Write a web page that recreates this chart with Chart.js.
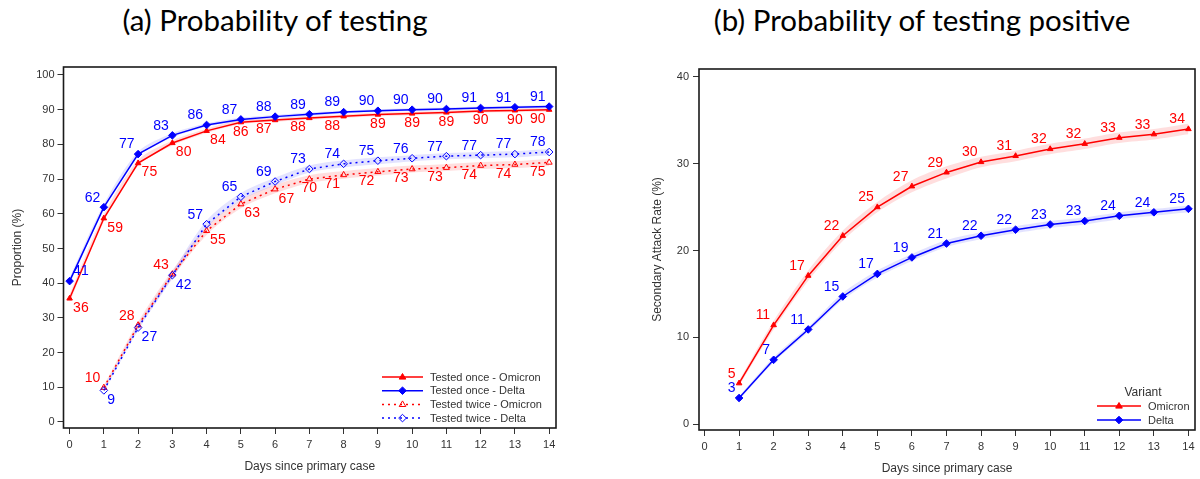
<!DOCTYPE html>
<html><head><meta charset="utf-8">
<script src="https://cdn.jsdelivr.net/npm/chart.js@4.4.1/dist/chart.umd.min.js"></script>
<style>
html,body{margin:0;padding:0;background:#fff;}
#wrap{position:relative;width:1200px;height:479px;overflow:hidden;background:#fff;}
canvas{position:absolute;top:0;}
.title{position:absolute;top:3px;font-family:Lato,'Open Sans',sans-serif;font-size:29.5px;line-height:34px;color:#000;white-space:nowrap;transform:translateX(-50%);}
</style></head><body>
<div id="wrap">
<div class="title" style="left:275px">(a) Probability of testing</div>
<div class="title" style="left:922px">(b) Probability of testing positive</div>
<canvas id="c1" width="600" height="479" style="left:0"></canvas>
<canvas id="c2" width="600" height="479" style="left:600px"></canvas>
</div>
<script>
// ---------- DATA ----------
const daysOnce  = [0,1,2,3,4,5,6,7,8,9,10,11,12,13,14];
const daysTwice = [1,2,3,4,5,6,7,8,9,10,11,12,13,14];
const daysB     = [1,2,3,4,5,6,7,8,9,10,11,12,13,14];
const xTickValues = [0,1,2,3,4,5,6,7,8,9,10,11,12,13,14];
const yTicksA = [0,10,20,30,40,50,60,70,80,90,100];
const yTicksB = [0,10,20,30,40];

// (a) Probability of testing (%)
const onceOmicron  = [35.6,58.7,74.6,80.4,83.9,86.4,87.0,87.6,88.1,88.6,88.9,89.2,89.6,89.8,90.0];
const onceDelta    = [40.6,61.9,77.2,82.6,85.6,87.2,88.0,88.7,89.3,89.7,90.0,90.2,90.5,90.7,90.9];
const twiceOmicron = [9.9,27.9,42.6,55.1,62.8,67.1,70.0,71.2,72.1,72.9,73.3,73.9,74.2,74.8];
const twiceDelta   = [9.1,27.2,42.3,57.0,64.9,69.3,72.9,74.4,75.3,76.0,76.6,76.9,77.2,77.8];
const onceOmicronCI  = [1.2,1.0,0.8,0.7,0.6,0.6,0.5,0.5,0.5,0.5,0.5,0.5,0.5,0.5,0.5];
const onceDeltaCI    = [1.0,0.9,0.7,0.6,0.5,0.5,0.5,0.5,0.4,0.4,0.4,0.4,0.4,0.4,0.4];
const twiceOmicronCI = [0.6,0.9,1.1,1.2,1.2,1.2,1.1,1.1,1.1,1.0,1.0,1.0,1.0,1.0];
const twiceDeltaCI   = [0.5,0.8,1.0,1.1,1.1,1.1,1.0,1.0,1.0,0.9,0.9,0.9,0.9,0.9];

// (b) Secondary attack rate (%)
const sarOmicron = [4.7,11.4,17.1,21.7,25.0,27.4,29.0,30.2,30.9,31.7,32.3,33.0,33.4,34.0];
const sarDelta   = [3.0,7.4,10.9,14.7,17.3,19.2,20.8,21.7,22.4,23.0,23.4,24.0,24.4,24.8];
const sarOmicronCI = [0.3,0.5,0.6,0.6,0.6,0.7,0.7,0.6,0.6,0.6,0.6,0.6,0.6,0.6];
const sarDeltaCI   = [0.2,0.3,0.3,0.4,0.4,0.4,0.4,0.4,0.4,0.4,0.4,0.4,0.4,0.4];

const labelsA = ['Tested once - Omicron','Tested once - Delta','Tested twice - Omicron','Tested twice - Delta'];
const labelsB = ['Omicron','Delta'];

// ---------- STYLE ----------
const RED = '#ff0000', BLUE = '#0000ff';
const RED_BAND = 'rgba(255,0,0,0.13)', BLUE_BAND = 'rgba(0,0,255,0.11)';
const FONT = "'Liberation Sans', Arial, sans-serif";
Chart.defaults.font.family = FONT;

function pts(xs, ys, add) { return xs.map((x,i)=>({x:x, y: ys[i] + (add ? add[i] : 0)})); }
function neg(a){ return a.map(v=>-v); }

function series(xs, ys, ci, color, band, style) {
  const lower = {data: pts(xs, ys, neg(ci)), borderWidth:0, pointRadius:0, fill:false, order:10, tension:0.3};
  const upper = {data: pts(xs, ys, ci), borderWidth:0, pointRadius:0, fill:'-1', backgroundColor:band, order:10, tension:0.3};
  const line = Object.assign({
    data: pts(xs, ys), borderColor: color, borderWidth: 1.5, tension: 0, fill:false, order:0,
    pointBorderColor: color, pointBorderWidth: 1
  }, style);
  return [lower, upper, line];
}

function modeOnceOmicron(d){ if (d<=4) return 'br'; if (d===5 || (d>=9 && d<=13)) return 'bc'; return 'bl'; }
function modeOnceDelta(d){ return d===0 ? 'ar' : 'al'; }
function modeTwiceOmicron(d){ if (d<=3) return 'al'; if (d<=6) return 'br'; if (d===7) return 'bc'; return 'bl'; }
function modeTwiceDelta(d){ return d<=3 ? 'br' : 'al'; }
function modeAL(){ return 'al'; }

const labelPlugin = {
  id:'ptLabels',
  afterDatasetsDraw(chart){
    const ctx = chart.ctx;
    chart.data.datasets.forEach((ds, di)=>{
      if (!ds.labelMode) return;
      const meta = chart.getDatasetMeta(di);
      meta.data.forEach((pt, i)=>{
        const d = ds.data[i];
        const mode = ds.labelMode(d.x);
        const txt = String(Math.round(d.y));
        let x = pt.x, y = pt.y + (mode[0]==='a' ? -9.5 : 9.5), align = 'center';
        if (mode[1]==='l'){ align='right'; x -= 3.5; }
        else if (mode[1]==='r'){ align='left'; x += 3.5; }
        ctx.save();
        ctx.font = '14px ' + FONT;
        ctx.fillStyle = ds.borderColor;
        ctx.textAlign = align; ctx.textBaseline = 'middle';
        ctx.fillText(txt, x, y);
        ctx.restore();
      });
    });
  }
};

const framePlugin = {
  id:'frame',
  afterDraw(chart){
    const a = chart.chartArea, ctx = chart.ctx;
    ctx.save();
    ctx.strokeStyle = '#1a1a1a'; ctx.lineWidth = 1.6;
    ctx.strokeRect(a.left, a.top, a.right-a.left, a.bottom-a.top);
    ctx.restore();
  }
};

function drawMarker(ctx, shape, x, y, r, color, filled){
  ctx.beginPath();
  if (shape==='triangle'){
    ctx.moveTo(x, y - r); ctx.lineTo(x + r*0.95, y + r*0.6); ctx.lineTo(x - r*0.95, y + r*0.6); ctx.closePath();
  } else {
    ctx.moveTo(x, y - r); ctx.lineTo(x + r, y); ctx.lineTo(x, y + r); ctx.lineTo(x - r, y); ctx.closePath();
  }
  ctx.lineWidth = 1; ctx.strokeStyle = color;
  if (filled){ ctx.fillStyle = color; ctx.fill(); }
  ctx.stroke();
}

function legendPlugin(cfg){
  return {
    id:'customLegend',
    afterDraw(chart){
      const ctx = chart.ctx;
      ctx.save();
      if (cfg.title){
        ctx.font = '12px ' + FONT; ctx.fillStyle = '#333'; ctx.textAlign='center'; ctx.textBaseline='middle';
        ctx.fillText(cfg.title, cfg.titleX, cfg.titleY);
      }
      cfg.items.forEach((it, k)=>{
        const y = cfg.y0 + k*cfg.dy;
        ctx.strokeStyle = it.color; ctx.lineWidth = 1.5;
        ctx.setLineDash(it.dash || []);
        ctx.beginPath(); ctx.moveTo(cfg.x1, y); ctx.lineTo(cfg.x2, y); ctx.stroke();
        ctx.setLineDash([]);
        drawMarker(ctx, it.shape, (cfg.x1+cfg.x2)/2, y, it.shape==='triangle'?3.5:3.8, it.color, it.filled);
        ctx.font = '11px ' + FONT; ctx.fillStyle = '#333'; ctx.textAlign='left'; ctx.textBaseline='middle';
        ctx.fillText(it.label, cfg.x2 + 7, y + 0.5);
      });
      ctx.restore();
    }
  };
}

function scalesCfg(xr, yr, yTicks, yW, xH, xTitle, yTitle, yTitlePad, xTitlePad, yTickPad){
  return {
    x: {
      type:'linear', min:xr[0], max:xr[1],
      afterBuildTicks: s=>{ s.ticks = xTickValues.map(v=>({value:v})); },
      afterFit: s=>{ s.height = xH; },
      grid:{drawOnChartArea:false, drawTicks:true, tickLength:6, color:'#333', lineWidth:1},
      border:{display:false},
      ticks:{font:{size:11}, color:'#333', padding:4, maxRotation:0, autoSkip:false, callback:v=>String(v)},
      title:{display:true, text:xTitle, font:{size:12}, color:'#333', padding:{top:0,bottom:xTitlePad}}
    },
    y: {
      type:'linear', min:yr[0], max:yr[1],
      afterBuildTicks: s=>{ s.ticks = yTicks.map(v=>({value:v})); },
      afterFit: s=>{ s.width = yW; },
      grid:{drawOnChartArea:false, drawTicks:true, tickLength:6, color:'#333', lineWidth:1},
      border:{display:false},
      ticks:{font:{size:11}, color:'#333', padding:yTickPad, autoSkip:false, callback:v=>String(v)},
      title:{display:true, text:yTitle, font:{size:12}, color:'#333', padding:{top:yTitlePad,bottom:0}}
    }
  };
}

const commonOpts = {
  responsive:false, devicePixelRatio:1, animation:false, events:[],
  plugins:{legend:{display:false}, tooltip:{enabled:false}, title:{display:false}},
};

// ---------- CHART A ----------
const dsA = [].concat(
  series(daysOnce, onceDelta, onceDeltaCI, BLUE, BLUE_BAND, {label:labelsA[1], pointStyle:'rectRot', pointRadius:3.8, pointBackgroundColor:BLUE, labelMode:modeOnceDelta}),
  series(daysOnce, onceOmicron, onceOmicronCI, RED, RED_BAND, {label:labelsA[0], pointStyle:'triangle', pointRadius:3.2, pointBackgroundColor:RED, labelMode:modeOnceOmicron}),
  series(daysTwice, twiceDelta, twiceDeltaCI, BLUE, BLUE_BAND, {label:labelsA[3], pointStyle:'rectRot', pointRadius:3.8, pointBackgroundColor:'rgba(255,255,255,0)', borderDash:[2,4], labelMode:modeTwiceDelta}),
  series(daysTwice, twiceOmicron, twiceOmicronCI, RED, RED_BAND, {label:labelsA[2], pointStyle:'triangle', pointRadius:3.5, pointBackgroundColor:'rgba(255,255,255,0)', borderDash:[2,4], labelMode:modeTwiceOmicron})
);

new Chart(document.getElementById('c1'), {
  type:'line',
  data:{datasets:dsA},
  options: Object.assign({}, commonOpts, {
    layout:{padding:{left:0, right:44, top:67, bottom:0}},
    scales: scalesCfg([-0.178, 14.2], [-1.73, 102.3], yTicksA, 63.5, 51, 'Days since primary case', 'Proportion (%)', 10, 5, 3)
  }),
  plugins:[labelPlugin, framePlugin, legendPlugin({
    x1:382, x2:423, y0:377, dy:13.7,
    items:[
      {label:labelsA[0], color:RED, shape:'triangle', filled:true},
      {label:labelsA[1], color:BLUE, shape:'diamond', filled:true},
      {label:labelsA[2], color:RED, shape:'triangle', filled:false, dash:[2,4]},
      {label:labelsA[3], color:BLUE, shape:'diamond', filled:false, dash:[2,4]}
    ]
  })]
});

// ---------- CHART B ----------
const dsB = [].concat(
  series(daysB, sarDelta, sarDeltaCI, BLUE, BLUE_BAND, {label:labelsB[1], pointStyle:'rectRot', pointRadius:3.8, pointBackgroundColor:BLUE, labelMode:modeAL}),
  series(daysB, sarOmicron, sarOmicronCI, RED, RED_BAND, {label:labelsB[0], pointStyle:'triangle', pointRadius:3.2, pointBackgroundColor:RED, labelMode:modeAL})
);

new Chart(document.getElementById('c2'), {
  type:'line',
  data:{datasets:dsB},
  options: Object.assign({}, commonOpts, {
    layout:{padding:{left:0, right:3, top:69, bottom:0}},
    scales: scalesCfg([-0.16, 14.19], [-0.69, 40.92], yTicksB, 99, 49, 'Days since primary case', 'Secondary Attack Rate (%)', 50, 3, 4)
  }),
  plugins:[labelPlugin, framePlugin, legendPlugin({
    title:'Variant', titleX:543, titleY:393,
    x1:497, x2:541, y0:406, dy:14,
    items:[
      {label:labelsB[0], color:RED, shape:'triangle', filled:true},
      {label:labelsB[1], color:BLUE, shape:'diamond', filled:true}
    ]
  })]
});
</script>
</body></html>
